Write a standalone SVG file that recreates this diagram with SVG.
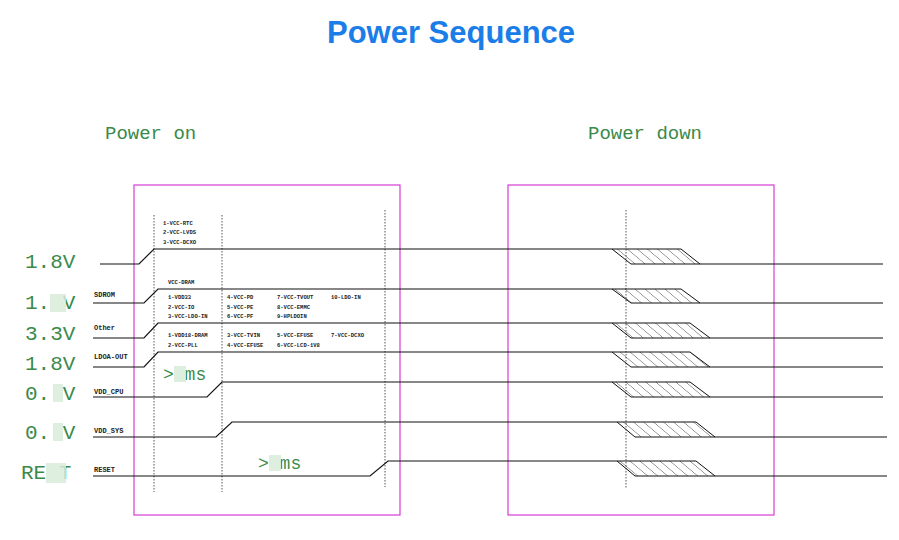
<svg xmlns="http://www.w3.org/2000/svg" width="899" height="540" viewBox="0 0 899 540">
<style>
.t{font-family:"Liberation Sans",sans-serif;font-weight:bold;font-size:31px;fill:#1a7de8}
.g{font-family:"Liberation Mono",monospace;fill:#3a8a4a}
.h{font-size:19px}.v{font-size:21px}
.s{font-family:"Liberation Mono",monospace;font-size:7px;fill:#222;font-weight:bold}
.n{font-family:"Liberation Mono",monospace;font-size:5.5px;fill:#222;font-weight:bold}
.box{fill:none;stroke:#d63cd6;stroke-width:1.2}
.dot{stroke:#555;stroke-width:1;stroke-dasharray:1.5,1.5}
.sig{fill:none;stroke:#111;stroke-width:1.2}
.hat{fill:url(#hp);stroke:#111;stroke-width:1}
.blur{fill:#d8ecda;opacity:.85}
</style>
<defs>
<pattern id="hp" width="10" height="16" patternUnits="userSpaceOnUse" patternTransform="skewX(50)">
<line x1="0" y1="0" x2="0" y2="16" stroke="#111" stroke-width="1"/>
</pattern>
</defs>
<text class="t" x="451" y="43" text-anchor="middle">Power Sequence</text>
<text class="g h" x="105" y="139">Power  on</text>
<text class="g h" x="588" y="139">Power  down</text>
<g id="frames">
<rect class="box" x="134" y="185" width="266" height="330"/>
<rect class="box" x="508" y="185" width="266" height="330"/>
<line class="dot" x1="154" y1="215" x2="154" y2="492"/>
<line class="dot" x1="222" y1="215" x2="222" y2="492"/>
<line class="dot" x1="385" y1="210" x2="385" y2="487"/>
<line class="dot" x1="626" y1="210" x2="626" y2="488"/>
</g>
<g id="connectors">
<path class="sig" d="M100 264H139L154 249H612"/>
<path class="sig" d="M93 303H144L158 289H612"/>
<path class="sig" d="M93 338H144L158 323H612"/>
<path class="sig" d="M93 367H144L158 352H612"/>
<path class="sig" d="M93 397H207L222 382H612"/>
<path class="sig" d="M93 437H216L232 422H617"/>
<path class="sig" d="M93 476H370L388 461H617"/>
<polygon class="hat" points="612,249 681,249 700,264 631,264"/>
<polygon class="hat" points="612,289 681,289 700,303 631,303"/>
<polygon class="hat" points="612,323 690,323 710,338 631,338"/>
<polygon class="hat" points="612,352 690,352 710,367 631,367"/>
<polygon class="hat" points="612,382 690,382 710,397 631,397"/>
<polygon class="hat" points="617,422 696,422 715,437 635,437"/>
<polygon class="hat" points="617,461 696,461 715,476 635,476"/>
<path class="sig" d="M700 264H883M700 303H883M710 338H883M710 367H883M710 397H883M715 437H887M715 476H887"/>
</g>
<g id="labels">
<text class="g v" x="25" y="268">1.8V</text>
<text class="g v" x="25" y="309">1.  V</text>
<rect class="blur" x="50" y="294" width="16" height="18"/>
<text class="g v" x="25" y="340">3.3V</text>
<text class="g v" x="25" y="370">1.8V</text>
<text class="g v" x="25" y="400">0.  V</text>
<rect class="blur" x="53" y="384" width="10" height="18"/>
<text class="g v" x="25" y="439">0.  V</text>
<rect class="blur" x="53" y="423" width="10" height="18"/>
<text class="g v" x="21" y="479">RE  T</text>
<rect class="blur" x="46" y="463" width="20" height="20"/>
<text class="s" x="94" y="297">SDROM</text>
<text class="s" x="94" y="330">Other</text>
<text class="s" x="94" y="359">LDOA-OUT</text>
<text class="s" x="94" y="394">VDD_CPU</text>
<text class="s" x="94" y="433">VDD_SYS</text>
<text class="s" x="94" y="472">RESET</text>
<text class="g" x="163" y="380" font-size="18">&gt;  ms</text>
<rect class="blur" x="174" y="366" width="12" height="16"/>
<text class="g" x="258" y="469" font-size="18">&gt;  ms</text>
<rect class="blur" x="269" y="455" width="12" height="16"/>
</g>
<g id="notes">
<text class="n" x="163" y="225">1-VCC-RTC</text>
<text class="n" x="163" y="234">2-VCC-LVDS</text>
<text class="n" x="163" y="244">3-VCC-DCXO</text>
<text class="n" x="168" y="284">VCC-DRAM</text>
<text class="n" x="168" y="299">1-VDD33</text><text class="n" x="227" y="299">4-VCC-PD</text><text class="n" x="277" y="299">7-VCC-TVOUT</text><text class="n" x="331" y="299">10-LDO-IN</text>
<text class="n" x="168" y="309">2-VCC-IO</text><text class="n" x="227" y="309">5-VCC-PE</text><text class="n" x="277" y="309">8-VCC-EMMC</text>
<text class="n" x="168" y="318">3-VCC-LDO-IN</text><text class="n" x="227" y="318">6-VCC-PF</text><text class="n" x="277" y="318">9-HPLDOIN</text>
<text class="n" x="168" y="337">1-VDD18-DRAM</text><text class="n" x="227" y="337">3-VCC-TVIN</text><text class="n" x="277" y="337">5-VCC-EFUSE</text><text class="n" x="331" y="337">7-VCC-DCXO</text>
<text class="n" x="168" y="347">2-VCC-PLL</text><text class="n" x="227" y="347">4-VCC-EFUSE</text><text class="n" x="277" y="347">6-VCC-LCD-1V8</text>
</g>
</svg>
